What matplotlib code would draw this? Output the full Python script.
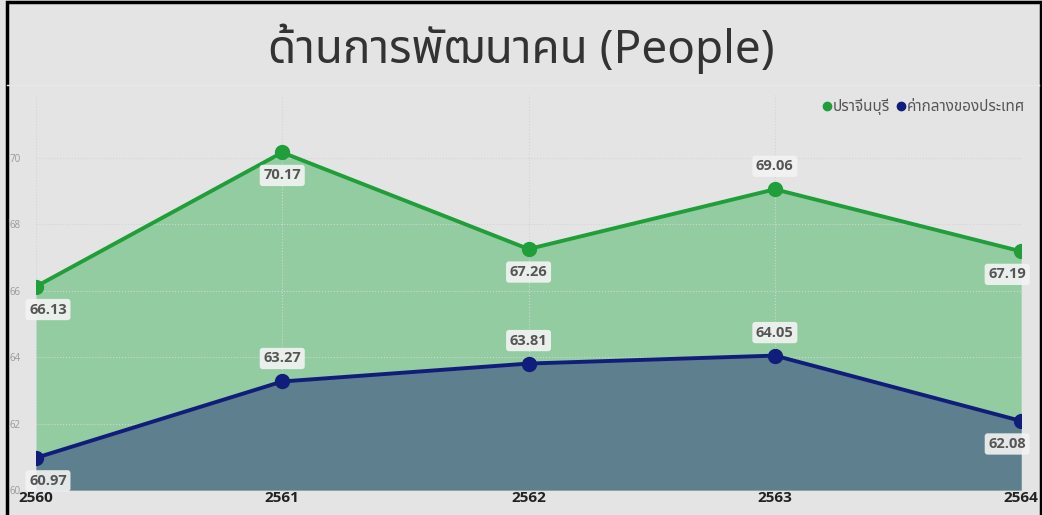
import matplotlib
matplotlib.use("Agg")
import matplotlib.pyplot as plt
from matplotlib.lines import Line2D
from matplotlib.patches import Rectangle

# data
years = ['2560', '2561', '2562', '2563', '2564']
prachinburi = [66.13, 70.17, 67.26, 69.06, 67.19]
national_median = [60.97, 63.27, 63.81, 64.05, 62.08]
green_label_side = ['below', 'below', 'below', 'above', 'below']
navy_label_side = ['below', 'above', 'above', 'above', 'below']

thai_font = ['Noto Sans Thai', 'DejaVu Sans']
plt.rcParams['font.family'] = thai_font
latin_font = ['Open Sans', 'DejaVu Sans']

bg = '#e4e4e4'
green = '#1f9e3a'
green_fill = '#93cca0'
navy = '#111d7a'
navy_fill = '#5e7f8e'

fig = plt.figure(figsize=(10.42, 5.15), dpi=100, facecolor=bg)
ax = fig.add_axes([0.0345, 0.0485, 0.9455, 0.767])
ax.set_facecolor(bg)

x = list(range(len(years)))
ymin, ymax = 60, 71.9

ax.fill_between(x, prachinburi, ymin, color=green_fill, lw=0, zorder=1)
ax.fill_between(x, national_median, ymin, color=navy_fill, lw=0, zorder=2)
ax.plot(x, prachinburi, color=green, lw=2.8, marker='o', ms=10, zorder=4)
ax.plot(x, national_median, color=navy, lw=2.8, marker='o', ms=10, zorder=4)

ax.set_xlim(0, len(years) - 1)
ax.set_ylim(ymin, ymax)
ax.set_xticks(x)
ax.set_xticklabels(years, fontsize=11, fontweight='bold', color='#222', family=latin_font)
ax.set_yticks([60, 62, 64, 66, 68, 70])
ax.set_yticklabels(['60', '62', '64', '66', '68', '70'], family=latin_font)
ax.tick_params(axis='y', labelsize=7, labelcolor='#9a9a9a', length=0, pad=11)
ax.tick_params(axis='x', length=0, pad=1)
ax.grid(True, color='#d4d4d4', linestyle=':', lw=0.8, zorder=0)
for s in ax.spines.values():
    s.set_visible(False)

def add_labels(values, sides):
    for i, (v, side) in enumerate(zip(values, sides)):
        dy = -23 if side == 'below' else 23
        dx = 0
        if i == 0:
            dx = 12
        elif i == len(values) - 1:
            dx = -14
        ax.annotate(f'{v:.2f}', (i, v), xytext=(dx, dy), textcoords='offset pixels',
                    ha='center', va='center', fontsize=10.5, fontweight='bold', color='#555555',
                    family=latin_font, zorder=6,
                    bbox=dict(boxstyle='round,pad=0.25,rounding_size=0.2', fc='#f3f3f3',
                              ec='none', alpha=0.9))

add_labels(prachinburi, green_label_side)
add_labels(national_median, navy_label_side)

# legend
handles = [Line2D([], [], ls='none', marker='o', ms=6, color=green),
           Line2D([], [], ls='none', marker='o', ms=6, color=navy)]
leg = fig.legend(handles, ['ปราจีนบุรี', 'ค่ากลางของประเทศ'], loc='center right',
                 bbox_to_anchor=(0.99, 0.792), ncol=2, frameon=False, fontsize=11,
                 handlelength=0.6, handletextpad=0.1, columnspacing=0.4, borderaxespad=0)
for t in leg.get_texts():
    t.set_color('#555555')
    t.set_fontweight('bold')

# title and header separator
fig.text(0.5, 0.905, 'ด้านการพัฒนาคน (People)', ha='center', va='center',
         fontsize=33, color='#333333')
fig.add_artist(Line2D([0.007, 0.997], [0.835, 0.835], color='#e9e9e9', lw=1))

# black frame (bottom edge runs past the image)
fig.add_artist(Rectangle((0.0068, -0.02), 0.9925, 1.016, transform=fig.transFigure,
                         fill=False, ec='black', lw=2.5))

fig.savefig('out.png', facecolor=bg)
